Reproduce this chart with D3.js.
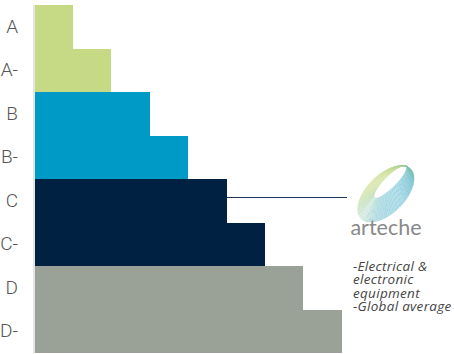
<!DOCTYPE html>
<html>
<head>
<meta charset="utf-8">
<script src="https://cdn.jsdelivr.net/npm/d3@7"></script>
<style>
  html, body { margin: 0; padding: 0; background: #fff; }
  svg { display: block; }
</style>
</head>
<body>
<svg id="chart" width="454" height="354"></svg>
<script>
const categories = ["A", "A-", "B", "B-", "C", "C-", "D", "D-"];
const values = [1, 2, 3, 4, 5, 6, 7, 8];
const groupColors = ["#c6d985", "#c6d985", "#009ac6", "#009ac6", "#002142", "#002142", "#9aa197", "#9aa197"];
const markerCategory = "C";
const brandName = "arteche";
const legendLines = ["-Electrical &", "electronic", "equipment", "-Global average"];

const svg = d3.select("#chart");
const x = d3.scaleLinear().domain([0, 8]).range([34.5, 341.7]);
const y = d3.scaleBand().domain(categories).range([5, 353]).padding(0);

// bars
svg.append("g").attr("shape-rendering", "crispEdges")
  .selectAll("rect").data(categories).join("rect")
  .attr("x", Math.round(x(0)))
  .attr("y", d => Math.round(y(d)))
  .attr("width", (d, i) => Math.round(x(values[i])) - Math.round(x(0)))
  .attr("height", d => Math.round(y(d) + y.bandwidth()) - Math.round(y(d)))
  .attr("fill", (d, i) => groupColors[i]);

// axis
const ax = svg.append("g").attr("transform", `translate(${Math.round(x(0)) - 1},0)`)
  .call(d3.axisLeft(y).tickSize(0).tickPadding(16));
ax.select(".domain").attr("stroke", "#dcdcdc").attr("stroke-width", 1.5)
  .attr("d", `M0,5V354`);
ax.selectAll("text")
  .attr("font-family", "Roboto, sans-serif")
  .attr("font-weight", 300)
  .attr("font-size", 19)
  .attr("fill", "#555");

// connector line
const mi = categories.indexOf(markerCategory);
const lineY = Math.round(y(markerCategory) + 18) + 0.5;
svg.append("line")
  .attr("x1", Math.round(x(values[mi]))).attr("x2", 347)
  .attr("y1", lineY).attr("y2", lineY)
  .attr("stroke", "#1a3656").attr("stroke-width", 1);

// logo (decorative ring of hatched ellipses)
const defs = svg.append("defs");
const grad = defs.append("linearGradient").attr("id", "lg")
  .attr("x1", "0").attr("y1", "0").attr("x2", "0").attr("y2", "1")
  .attr("gradientUnits", "objectBoundingBox");
grad.append("stop").attr("offset", "0%").attr("stop-color", "#c9dc8a");
grad.append("stop").attr("offset", "55%").attr("stop-color", "#7cc0a8");
grad.append("stop").attr("offset", "100%").attr("stop-color", "#1e9cc0");
const logo = svg.append("g").attr("transform", "translate(388,186) rotate(-45)");
const steps = d3.range(0, 22);
logo.selectAll("ellipse").data(steps).join("ellipse")
  .attr("cx", t => -7 + t * 0.55)
  .attr("cy", t => 4 - t * 0.25)
  .attr("rx", t => 35 - t * 0.6)
  .attr("ry", t => 19 - t * 0.62)
  .attr("fill", "none")
  .attr("stroke", "url(#lg)")
  .attr("stroke-width", 0.5)
  .attr("opacity", 0.85);

svg.append("text")
  .attr("x", 386).attr("y", 235)
  .attr("text-anchor", "middle")
  .attr("font-family", "Lato, sans-serif")
  .attr("font-size", 21.5)
  .attr("fill", "#888")
  .text(brandName);

// legend
svg.append("g").selectAll("text").data(legendLines).join("text")
  .attr("x", 353)
  .attr("y", (d, i) => 271 + i * 13.3)
  .attr("font-family", "'Open Sans', sans-serif")
  .attr("font-style", "italic")
  .attr("font-size", 13.5)
  .attr("letter-spacing", 0.3)
  .attr("fill", "#444")
  .text(d => d);
</script>
</body>
</html>
